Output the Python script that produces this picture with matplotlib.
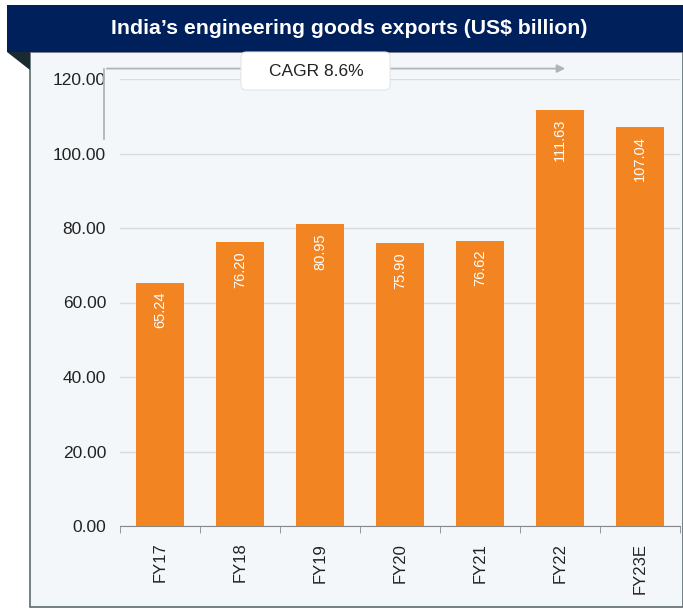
import matplotlib.pyplot as plt
from matplotlib.patches import Rectangle, Polygon, FancyBboxPatch

# donnees (US$ milliards)
annees = ["FY17", "FY18", "FY19", "FY20", "FY21", "FY22", "FY23E"]
exports = [65.24, 76.20, 80.95, 75.90, 76.62, 111.63, 107.04]
yticks = [0, 20, 40, 60, 80, 100, 120]

orange = "#F28522"
navy = "#00205B"
fond = "#F4F7F9"

W, H = 683, 609
fig = plt.figure(figsize=(W / 100, H / 100), dpi=100)
fig.patch.set_facecolor("white")

def fx(px):
    return px / W

def fy(py):
    return 1 - py / H

# bandeau du titre + panneau
fig.patches.append(Rectangle((fx(30), fy(607)), fx(683) - fx(30), fy(52) - fy(607),
                             transform=fig.transFigure, facecolor=fond,
                             edgecolor="#5F6B70", lw=1.2, zorder=-2))
fig.patches.append(Rectangle((fx(7), fy(52)), fx(683) - fx(7), fy(5) - fy(52),
                             transform=fig.transFigure, facecolor=navy,
                             edgecolor="none", zorder=-1))
fig.patches.append(Polygon([(fx(7), fy(52)), (fx(30), fy(52)), (fx(30), fy(70))],
                           closed=True, transform=fig.transFigure,
                           facecolor="#1A2A33", edgecolor="none", zorder=-1))
fig.text(fx(349), fy(28), "India\u2019s engineering goods exports (US$ billion)",
         color="white", fontsize=15.3, fontweight="bold", ha="center", va="center",
         family="Liberation Sans")

ax = fig.add_axes([fx(120), fy(526), fx(680) - fx(120), fy(79) - fy(526)])
ax.set_facecolor("none")
ax.set_zorder(2)

x = range(len(annees))
bars = ax.bar(x, exports, width=0.59, color=orange, zorder=3)
for i, v in enumerate(exports):
    ax.text(i, v - 2.4, f"{v:.2f}", rotation=90, ha="center", va="top",
            color="white", fontsize=10.5, family="Liberation Sans", zorder=4)

ax.set_ylim(0, 120)
ax.set_yticks(yticks)
ax.set_yticklabels([f"{t:.2f}" for t in yticks], fontsize=12.5, family="Liberation Sans",
                   color="#222222")
ax.set_xticks(list(x))
ax.set_xticklabels(annees, rotation=90, fontsize=12, family="Liberation Sans",
                   color="#222222")
ax.set_xticks([i - 0.5 for i in range(len(annees) + 1)], minor=True)
ax.tick_params(axis="x", which="major", length=0, pad=12)
ax.tick_params(axis="x", which="minor", length=5, color="#888888")
ax.tick_params(axis="y", length=0, pad=10)
ax.grid(axis="y", color="#D9DCDE", lw=1, zorder=0)
for s in ["top", "right", "left"]:
    ax.spines[s].set_visible(False)
ax.spines["bottom"].set_color("#888888")
ax.set_xlim(-0.5, len(annees) - 0.5)

# fleche CAGR
gris = "#B0B4B6"
ya = 122.8
ax.plot([-0.7, -0.7], [104.0, ya], color=gris, lw=1.3, clip_on=False)
ax.annotate("", xy=(5.1, ya), xytext=(-0.7, ya),
            arrowprops=dict(arrowstyle="-|>", color=gris, lw=1.3, mutation_scale=12),
            annotation_clip=False)
fig.patches.append(FancyBboxPatch((fx(241), fy(90)), fx(390) - fx(241), fy(52) - fy(90),
                                  boxstyle="round,pad=0,rounding_size=0.008",
                                  transform=fig.transFigure, facecolor="white",
                                  edgecolor="#E3E6E8", lw=0.8, zorder=5))
fig.text(fx(316), fy(71), "CAGR 8.6%", ha="center", va="center", fontsize=12.5,
         family="Liberation Sans", color="#222222", zorder=6)

fig.savefig("out.png", dpi=100)
